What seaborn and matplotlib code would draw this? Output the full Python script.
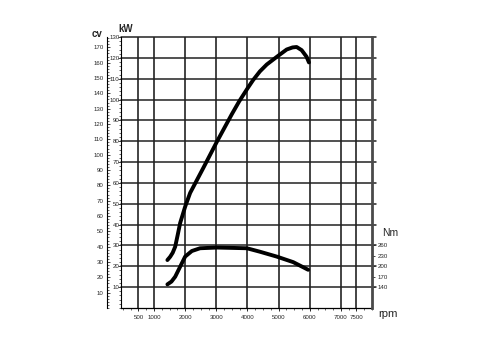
import matplotlib
matplotlib.use("Agg")
import matplotlib.pyplot as plt
import seaborn as sns
from matplotlib.ticker import MultipleLocator

# ---- data ----
power_rpm = [1430, 1520, 1600, 1680, 1760, 1840, 2000, 2160, 2580, 3020, 3500, 3730,
             4000, 4180, 4400, 4620, 4980, 5260, 5450, 5580, 5740, 5900, 5975]
power_kw = [23.0, 24.6, 26.5, 29.4, 35.0, 40.8, 48.6, 55.2, 67.1, 79.8, 93.0, 99.0,
            105.3, 109.3, 113.5, 116.8, 120.9, 124.0, 125.0, 125.2, 123.7, 120.5, 117.8]

torque_rpm = [1430, 1560, 1680, 1840, 2000, 2215, 2480, 3020, 3980, 4400, 4940, 5470, 5950]
torque_nm = [148, 156, 170, 199, 228, 244, 252, 254, 252, 242, 228, 212, 190]

rpm_ticks = [500, 1000, 2000, 3000, 4000, 5000, 6000, 7000, 7500]
rpm_labels = ["500", "1000", "2000", "3000", "4000", "5000", "6000", "7000", "7500"]
kw_ticks = list(range(10, 131, 10))
cv_ticks = list(range(10, 171, 10))
nm_ticks = [140, 170, 200, 230, 260]

KW_PER_CV = 0.7355

sns.set_style("white")
plt.rcParams['font.family'] = ['Liberation Sans', 'DejaVu Sans']

fig = plt.figure(figsize=(4.88, 3.40), dpi=100)
ax = fig.add_axes([121/488, 32/340, 251/488, 271/340])

ax.set_xlim(-60, 8000)
ax.set_ylim(0, 130)

# grid
for x in rpm_ticks:
    ax.axvline(x, color='#111111', lw=1.1, zorder=1)
for y in kw_ticks:
    ax.axhline(y, color='#222222', lw=1.1, zorder=1, xmax=1.015, clip_on=False)

sns.lineplot(x=power_rpm, y=power_kw, ax=ax, color='black', linewidth=2.8,
             solid_capstyle='round', zorder=5)

for s in ['top', 'right']:
    ax.spines[s].set_visible(False)
ax.spines['left'].set_color('black')
ax.spines['left'].set_linewidth(0.8)
ax.spines['bottom'].set_color('black')
ax.spines['bottom'].set_linewidth(0.9)

ax.set_xticks(rpm_ticks)
ax.set_xticklabels(rpm_labels)
ax.xaxis.set_minor_locator(MultipleLocator(250))
ax.tick_params(axis='x', which='major', direction='out', length=2.5, width=0.7,
               labelsize=4.4, pad=2.5, bottom=True)
ax.tick_params(axis='x', which='minor', direction='out', length=1.5, width=0.5, bottom=True)

ax.set_yticks(kw_ticks)
ax.yaxis.set_minor_locator(MultipleLocator(2))
ax.tick_params(axis='y', which='major', direction='out', length=2.2, width=0.6,
               labelsize=4.4, pad=-1.2, left=True)
ax.tick_params(axis='y', which='minor', direction='out', length=1.4, width=0.5, left=True)
ax.set_xlabel("")
ax.set_ylabel("")

# cv axis (outer left)
ax_cv = ax.twinx()
ax_cv.set_ylim(0, 130 / KW_PER_CV)
ax_cv.yaxis.set_ticks_position('left')
ax_cv.yaxis.set_label_position('left')
for s in ['top', 'right', 'bottom']:
    ax_cv.spines[s].set_visible(False)
ax_cv.spines['left'].set_visible(True)
ax_cv.spines['left'].set_position(('outward', 10))
ax_cv.spines['left'].set_linewidth(0.8)
ax_cv.spines['left'].set_color('black')
ax_cv.set_yticks(cv_ticks)
ax_cv.yaxis.set_minor_locator(MultipleLocator(2))
ax_cv.tick_params(axis='y', which='major', direction='in', length=2.5, width=0.6,
                  labelsize=4.4, pad=2.5, left=True, right=False)
ax_cv.tick_params(axis='y', which='minor', direction='in', length=1.5, width=0.5,
                  left=True, right=False)

# Nm axis (right)
ax_nm = ax.twinx()
ax_nm.set_ylim(80, 860)
sns.lineplot(x=torque_rpm, y=torque_nm, ax=ax_nm, color='black', linewidth=2.8,
             solid_capstyle='round', zorder=5)
for s in ['top', 'left', 'bottom']:
    ax_nm.spines[s].set_visible(False)
ax_nm.spines['right'].set_color('#4a4a4a')
ax_nm.spines['right'].set_linewidth(2.0)
ax_nm.set_yticks(nm_ticks)
ax_nm.tick_params(axis='y', which='major', direction='out', length=2.5, width=0.6,
                  labelsize=4.4, pad=1.5, right=True)
ax_nm.set_ylabel("")

# axis titles
fig.text(97/488, 1 - 34/340, "cv", fontsize=7, fontweight='bold', ha='center', va='center')
fig.text(126/488, 1 - 29/340, "kW", fontsize=7, fontweight='bold', ha='center', va='center')
fig.text(390/488, 1 - 233/340, "Nm", fontsize=7.5, ha='center', va='center')
fig.text(388/488, 1 - 314/340, "rpm", fontsize=8.2, ha='center', va='center')

fig.savefig("out.png", dpi=100)
